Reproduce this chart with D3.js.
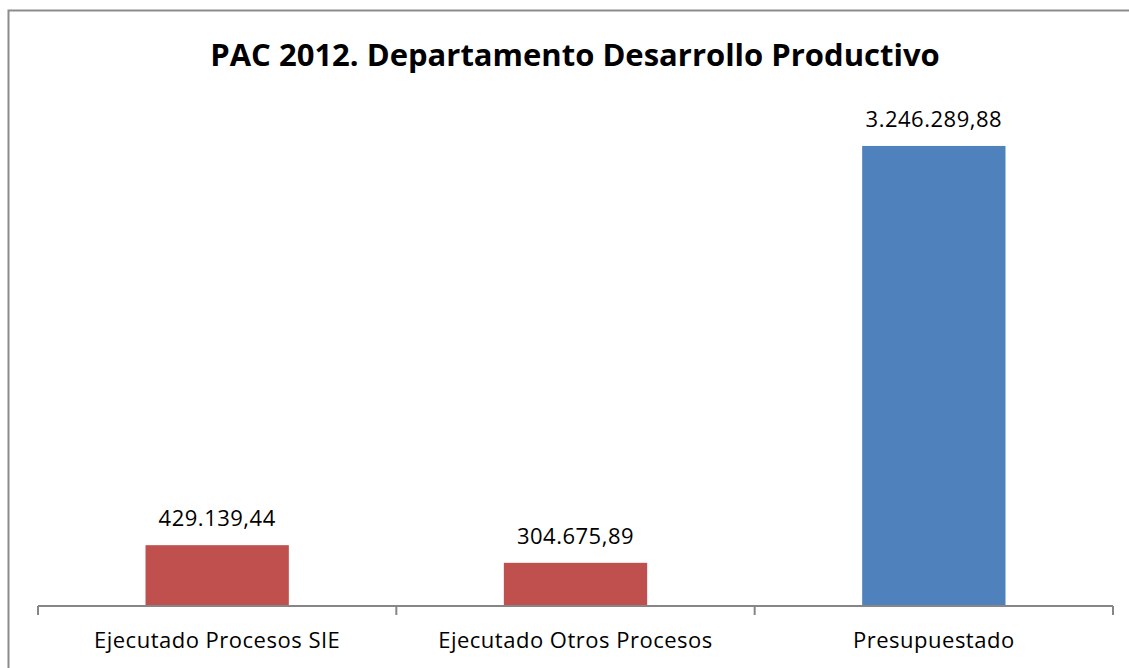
<!DOCTYPE html>
<html>
<head>
<meta charset="utf-8">
<script src="https://cdn.jsdelivr.net/npm/d3@7"></script>
<style>
  html, body { margin: 0; padding: 0; background: #fff; }
  svg text { font-family: "Open Sans", Lato, sans-serif; fill: #000; }
</style>
</head>
<body>
<svg id="chart" width="1129" height="668"></svg>
<script>
const title = 'PAC 2012. Departamento Desarrollo Productivo'
const categories = ['Ejecutado Procesos SIE', 'Ejecutado Otros Procesos', 'Presupuestado']
const values = [429139.44, 304675.89, 3246289.88]
const labels = ['429.139,44', '304.675,89', '3.246.289,88']
const colors = ['#C0504D', '#C0504D', '#4F81BD']

const width = 1129
const height = 668
const margin = { top: 110, right: 16, bottom: 62, left: 38 }

const svg = d3.select('#chart')

// frame (right and bottom edges fall outside the picture)
svg.append('path')
  .attr('d', `M8.5,${height + 5} V10.5 H${width + 5}`)
  .attr('fill', 'none')
  .attr('stroke', '#8c8c8c')
  .attr('stroke-width', 2)

svg.append('text')
  .attr('x', 575)
  .attr('y', 66)
  .attr('text-anchor', 'middle')
  .style('font-weight', 'bold')
  .style('font-size', '31px')
  .text(title)

const x = d3.scaleBand()
  .domain(categories)
  .range([margin.left, width - margin.right])
  .paddingInner(0.6)
  .paddingOuter(0.3)

const y = d3.scaleLinear()
  .domain([0, 3500000])
  .range([height - margin.bottom, margin.top])

svg.selectAll('rect.bar')
  .data(values)
  .join('rect')
    .attr('class', 'bar')
    .attr('x', (d, i) => x(categories[i]))
    .attr('y', d => y(d))
    .attr('width', x.bandwidth())
    .attr('height', d => y(0) - y(d))
    .attr('fill', (d, i) => colors[i])

svg.selectAll('text.value')
  .data(values)
  .join('text')
    .attr('class', 'value')
    .attr('x', (d, i) => x(categories[i]) + x.bandwidth() / 2)
    .attr('y', d => y(d) - 19)
    .attr('text-anchor', 'middle')
    .style('font-size', '22px')
    .style('letter-spacing', '0.5px')
    .text((d, i) => labels[i])

// category axis with ticks between bands
const axis = svg.append('g')
  .attr('transform', `translate(0,${y(0)})`)
  .attr('stroke', '#868686')
  .attr('stroke-width', 2)

axis.append('line')
  .attr('x1', margin.left).attr('x2', width - margin.right)

const edges = d3.range(categories.length + 1).map(i => margin.left + i * (width - margin.right - margin.left) / categories.length)
axis.selectAll('line.tick')
  .data(edges)
  .join('line')
    .attr('class', 'tick')
    .attr('x1', d => d).attr('x2', d => d)
    .attr('y1', 0).attr('y2', 9)

svg.selectAll('text.cat')
  .data(categories)
  .join('text')
    .attr('class', 'cat')
    .attr('x', d => x(d) + x.bandwidth() / 2)
    .attr('y', y(0) + 42)
    .attr('text-anchor', 'middle')
    .style('font-size', '22px')
    .style('letter-spacing', '0.5px')
    .text(d => d)
</script>
</body>
</html>
